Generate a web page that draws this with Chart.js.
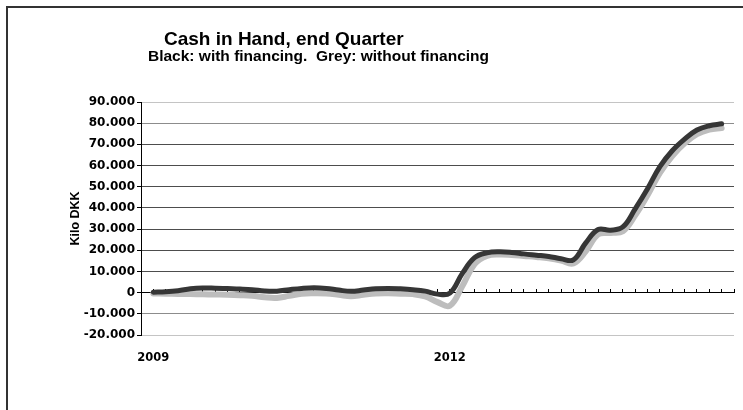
<!DOCTYPE html>
<html>
<head>
<meta charset="utf-8">
<title>Cash in Hand, end Quarter</title>
<script src="https://cdn.jsdelivr.net/npm/chart.js@4.4.1/dist/chart.umd.min.js"></script>
<style>
  html, body { margin: 0; padding: 0; background: #fff; overflow: hidden; }
  #wrap { position: relative; width: 743px; height: 410px; }
  #frame { position: absolute; left: 6px; top: 6px; width: 800px; height: 500px; border: 2px solid #333; }
  #cash { position: absolute; left: 0; top: 0; }
</style>
</head>
<body>
<div id="wrap">
  <div id="frame"></div>
  <canvas id="cash" width="743" height="410"></canvas>
</div>
<script>
// Cash at end of each quarter, kilo DKK, first quarter 2009 onwards
const withFinancing = [
  200, 400, 900, 1800, 2200, 2100, 1900, 1700, 1400, 800,
  700, 1400, 2000, 2300, 2000, 1200, 600, 1200, 1800, 2000,
  1800, 1400, 700, -700, -200, 9000, 16500, 18800, 19300, 19000,
  18300, 17700, 17100, 16000, 15500, 23500, 29800, 29500, 31000, 39500,
  49000, 59500, 67000, 72500, 76800, 78800, 79700
];
const withoutFinancing = [
  -400, -500, -600, -700, -800, -900, -1000, -1200, -1500, -2200,
  -2500, -1500, -500, -300, -400, -1000, -1700, -1000, -400, -300,
  -500, -700, -1800, -4500, -6200, 3000, 13500, 17300, 18000, 17800,
  17300, 16800, 16200, 15200, 13800, 19500, 27500, 28200, 29000, 36500,
  46000, 56500, 64500, 70500, 74800, 77000, 77700
];

// year labels and the quarter index they sit on
const yearLabels = ['2009', '2012'];
const yearLabelIndex = [0, 24];

const yMin = -20000;
const yMax = 90000;
const yStep = 10000;

const FONT = '"Liberation Sans", Arial, sans-serif';
const TICK_FONT = '"DejaVu Sans", Verdana, sans-serif';

function kilo(v) {
  const s = String(Math.abs(v)).replace(/\B(?=(\d{3})+(?!\d))/g, '.');
  return v < 0 ? '-' + s : s;
}

const toPoints = (arr) => arr.map((v, i) => ({ x: i, y: v }));

// title and subtitle, drawn left of centre like the spreadsheet original
const headings = {
  id: 'headings',
  afterDraw(chart) {
    const ctx = chart.ctx;
    ctx.save();
    ctx.fillStyle = '#000';
    ctx.textBaseline = 'alphabetic';
    ctx.font = 'bold 19px ' + FONT;
    ctx.fillText('Cash in Hand, end Quarter', 164, 45);
    ctx.font = 'bold 15.5px ' + FONT;
    ctx.fillText('Black: with financing.  Grey: without financing', 148, 61);
    ctx.restore();
  }
};

const ctx = document.getElementById('cash').getContext('2d');
new Chart(ctx, {
  type: 'line',
  data: {
    datasets: [
      {
        label: 'with financing',
        data: toPoints(withFinancing),
        borderColor: '#363636',
        borderWidth: 5,
        pointRadius: 0,
        tension: 0.4,
        borderCapStyle: 'round',
        borderJoinStyle: 'round',
        xAxisID: 'x'
      },
      {
        label: 'without financing',
        data: toPoints(withoutFinancing),
        borderColor: '#bdbdbd',
        borderWidth: 6,
        pointRadius: 0,
        tension: 0.4,
        borderCapStyle: 'round',
        borderJoinStyle: 'round',
        xAxisID: 'x'
      }
    ]
  },
  options: {
    responsive: false,
    animation: false,
    devicePixelRatio: 1,
    layout: { padding: { top: 102, left: 0, right: 9, bottom: 35 } },
    plugins: {
      legend: { display: false },
      tooltip: { enabled: false }
    },
    scales: {
      x: {
        type: 'linear',
        position: 'bottom',
        min: -1,
        max: withFinancing.length,
        grid: { display: false, drawTicks: false },
        border: { display: false },
        afterBuildTicks: (scale) => {
          scale.ticks = yearLabelIndex.map(v => ({ value: v }));
        },
        afterFit: (scale) => { scale.height = 40; },
        ticks: {
          autoSkip: false,
          maxRotation: 0,
          padding: 16,
          color: '#000',
          font: { family: TICK_FONT, size: 11.5, weight: 'bold' },
          callback: (v) => yearLabels[yearLabelIndex.indexOf(v)]
        }
      },
      // tick marks along the zero line, one per quarter
      xZero: {
        type: 'linear',
        position: { y: 0 },
        min: -1,
        max: withFinancing.length,
        afterBuildTicks: (scale) => {
          scale.ticks = Array.from({ length: withFinancing.length + 1 }, (_, i) => ({ value: i }));
        },
        grid: { drawOnChartArea: false, drawTicks: true, tickLength: -4, tickColor: '#000' },
        border: { color: '#000', width: 1 },
        ticks: { display: false }
      },
      y: {
        min: yMin,
        max: yMax,
        afterFit: (scale) => { scale.width = 141; },
        ticks: {
          stepSize: yStep,
          padding: 2,
          color: '#000',
          font: { family: TICK_FONT, size: 12, weight: 'bold' },
          callback: (v) => kilo(v)
        },
        grid: {
          tickLength: 4,
          tickColor: '#000',
          color: (c) => {
            const v = c.tick.value;
            if (v === 0) return '#000';
            if (v === yMax || v === yMin) return '#c4c4c4';
            if (v === yMax - yStep || v === yMin + yStep) return '#8c8c8c';
            return '#4d4d4d';
          }
        },
        border: { color: '#000', width: 1 },
        title: {
          display: true,
          text: 'Kilo DKK',
          color: '#000',
          font: { family: FONT, size: 12.5, weight: 'bold' },
          padding: { top: 68, bottom: 0 }
        }
      }
    }
  },
  plugins: [headings]
});
</script>
</body>
</html>
